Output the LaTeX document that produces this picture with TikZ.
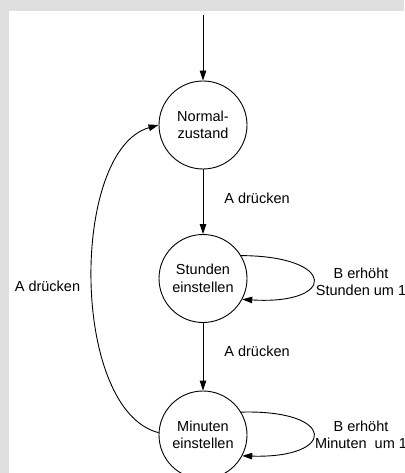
\documentclass[tikz,border=0pt]{standalone}
\usepackage{fontspec}
\setmainfont{Liberation Sans}
\usetikzlibrary{arrows.meta,calc}
\definecolor{bggray}{RGB}{223,223,223}
\begin{document}
\begin{tikzpicture}[x=1pt,y=-1pt,
  every node/.style={font=\fontsize{14.5}{17.5}\selectfont, align=center, inner sep=0pt},
  state/.style={draw, circle, minimum size=88pt, line width=0.9pt},
  conn/.style={line width=0.9pt, -{Triangle[length=10pt,width=6.5pt]}},
  lbl/.style={}]
\clip (0,0) rectangle (404,473);
\fill[bggray] (0,0) rectangle (404,473);
\fill[white] (9,11) rectangle (404,473);

\node[state] (N) at (203,125) {Normal-\\zustand};
\node[state] (S) at (203,278.5) {Stunden\\einstellen};
\node[state] (M) at (203,435) {Minuten\\einstellen};

\coordinate (start) at (203,15);
\draw[conn] (start) -- (N.north);
\draw[conn] (N.south) -- (S.north);
\draw[conn] (S.south) -- (M.north);

\draw[conn] (S.31) .. controls ($(S.center)+(134,-22.5)$) and ($(S.center)+(134,26.5)$) .. (S.-28);
\draw[conn] (M.31) .. controls ($(M.center)+(134,-25.5)$) and ($(M.center)+(134,23.5)$) .. (M.-28);

\draw[conn] (M.177) .. controls ($(M.center)+(-133,-25)$) and ($(N.center)+(-133,25)$) .. (N.west);

\node[lbl] (a1) at (257,198) {A drücken};
\node[lbl] (a2) at (257,351) {A drücken};
\node[lbl] (a3) at (47.5,286) {A drücken};
\node[lbl] (b1) at (361,282) {B erhöht\\Stunden um 1};
\node[lbl] (b2) at (361,435) {B erhöht\\Minuten~ um 1};
\end{tikzpicture}
\end{document}
